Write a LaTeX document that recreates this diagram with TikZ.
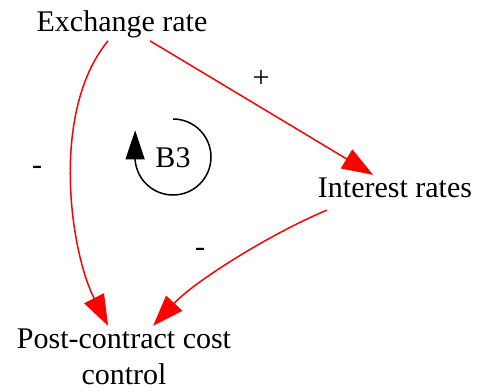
\documentclass[tikz,border=0pt]{standalone}
\usepackage{fontspec}
\setmainfont{Liberation Serif}
\usetikzlibrary{arrows.meta}

\begin{document}
\begin{tikzpicture}[x=1pt,y=1pt,
    var/.style={font=\fontsize{30}{36}\selectfont,align=center,inner sep=3pt},
    sign/.style={font=\fontsize{30}{36}\selectfont,inner sep=0pt},
    link/.style={red,line width=1.5pt,-{Triangle[length=31pt,width=22pt]}}]
  \useasboundingbox (0,0) rectangle (478,391);
  \node[var] (exchange) at (122,367) {Exchange rate};
  \node[var] (interest) at (395,203) {Interest rates};
  \node[var] (postcontract) at (124,34) {Post-contract cost\\control};
  \draw[link] (exchange) .. controls (50,280) and (70,140) .. (postcontract);
  \draw[link] (exchange) -- (interest);
  \draw[link] ([shift={(12pt,-9pt)}]interest.south west)
    .. controls (270,157) and (195,110) .. (postcontract);
  \node[sign] (plusA) at (261,312) {+};
  \node[sign] (minusA) at (37,221) {-};
  \node[sign] (minusB) at (200,139) {-};
  \draw[line width=1.5pt,-{Triangle[length=29pt,width=19pt]}]
    (173,272) arc[start angle=90,end angle=-175,radius=38] -- ++(0,30);
  \node[sign] (loopname) at (173,233) {B3};
\end{tikzpicture}
\end{document}
